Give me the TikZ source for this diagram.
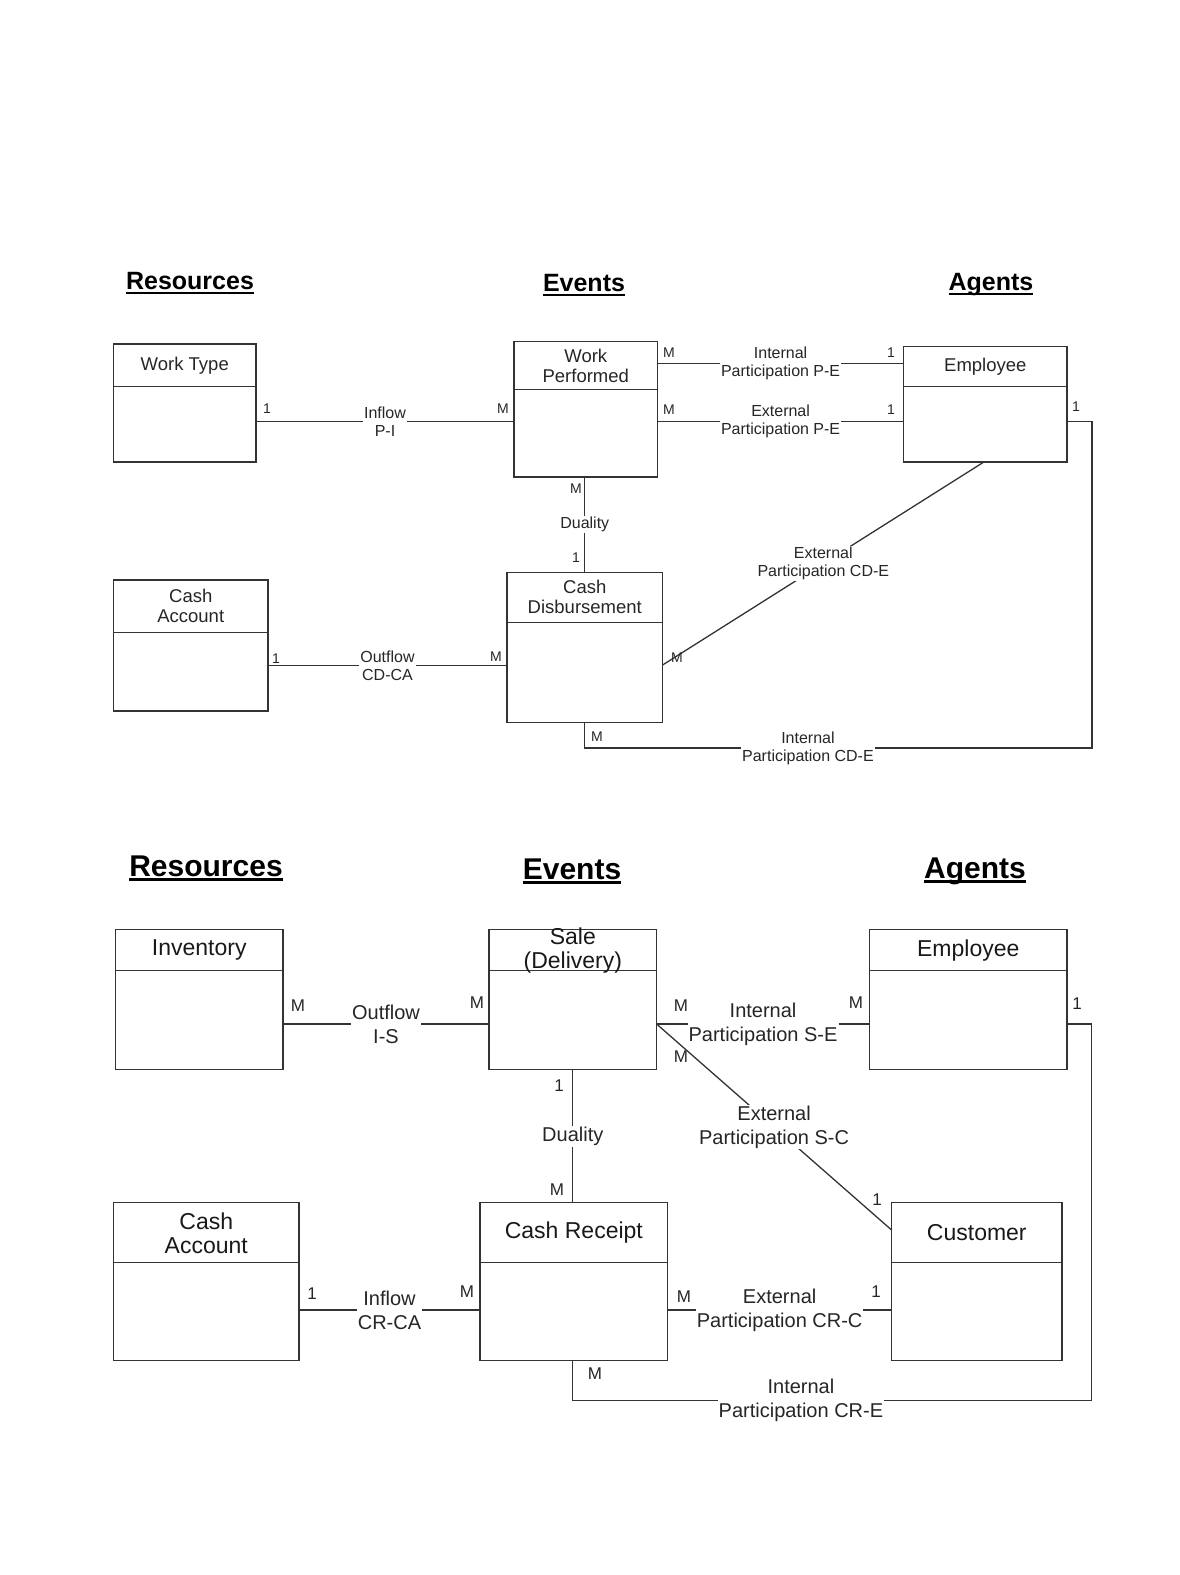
\documentclass[tikz,border=0pt]{standalone}
\usepackage{fontspec}
\setmainfont{Liberation Sans}
\newcommand\headul[1]{\setbox0=\hbox{#1}\leavevmode\rlap{\copy0}\rule[-4.5pt]{\wd0}{2.2pt}}
\newcommand\entity[8]{%
  \node[ent, minimum width=#4pt, minimum height=#5pt] (#1H) at (#2,#3) {};
  \node[ent, minimum width=#4pt, minimum height=#6pt] (#1) at (#1H.south west) {};
  \node[#7] (#1T) at (#1H.center) {#8};
}
\tikzset{
  ent/.style={draw=black!80, line width=1.3pt, inner sep=0pt, outer sep=0pt, anchor=north west},
  tname/.style={align=center, text=black!85, inner sep=0pt, font=\fontsize{18.5}{20}\selectfont},
  bname/.style={align=center, text=black!90, inner sep=0pt, font=\fontsize{23}{24}\selectfont},
  conn/.style={draw=black!80, line width=1.3pt},
  tlbl/.style={fill=white, inner sep=1pt, align=center, text=black!85, font=\fontsize{16}{18}\selectfont},
  blbl/.style={fill=white, inner sep=1pt, align=center, text=black!85, font=\fontsize{20}{24}\selectfont},
  tcard/.style={inner sep=0pt, text=black!85, font=\fontsize{14}{14}\selectfont},
  bcard/.style={inner sep=0pt, text=black!85, font=\fontsize{17}{17}\selectfont},
  thead/.style={inner sep=0pt, text=black, font=\fontsize{25}{28}\bfseries\selectfont},
  bhead/.style={inner sep=0pt, text=black, font=\fontsize{30}{32}\bfseries\selectfont},
}
\begin{document}
\begin{tikzpicture}[x=1pt,y=-1pt]
\useasboundingbox (0,0) rectangle (1180,1575);
% ---------------- top diagram ----------------
\node[thead] (h1) at (190,283) {\headul{Resources}};
\node[thead] (h2) at (584,285) {\headul{Events}};
\node[thead] (h3) at (991,285) {\headul{Agents}};

\entity{wt}{113.5}{344}{142.5}{42.5}{75.5}{tname}{Work Type}
\entity{wp}{514}{341.4}{143.6}{48}{87.5}{tname}{Work\\Performed}
\entity{emp}{903.6}{346.4}{163.4}{40}{75.5}{tname}{Employee}
\entity{ca}{113.5}{580}{154.5}{52.5}{78.5}{tname}{Cash\\Account}
\entity{cd}{507}{572.3}{155.6}{50}{100.5}{tname}{Cash\\Disbursement}

\draw[conn] (wt.east |- 0,421.7) -- node[tlbl] (l1) {Inflow\\P-I} (wp.west |- 0,421.7);
\node[tcard] (c1a) at (267,409) {1};
\node[tcard] (c1b) at (503,409) {M};

\draw[conn] (wp.east |- 0,363.5) -- node[tlbl] (l2) {Internal\\Participation P-E} (emp.west |- 0,363.5);
\node[tcard] (c2a) at (669,353) {M};
\node[tcard] (c2b) at (891,353) {1};

\draw[conn] (wp.east |- 0,421.7) -- node[tlbl] (l3) {External\\Participation P-E} (emp.west |- 0,421.7);
\node[tcard] (c3a) at (669,410) {M};
\node[tcard] (c3b) at (891,410) {1};

\draw[conn] (wp.south -| cdH.north) -- node[tlbl] (l4) {Duality} (cdH.north);
\node[tcard] (c4a) at (576,489) {M};
\node[tcard] (c4b) at (576,558) {1};

\draw[conn] (ca.east |- 0,665.6) -- node[tlbl] (l5) {Outflow\\CD-CA} (cd.west |- 0,665.6);
\node[tcard] (c5a) at (276,659) {1};
\node[tcard] (c5b) at (496,657) {M};

\draw[conn] (emp.south -| 984,0) -- node[tlbl] (l6) {External\\Participation CD-E} (cd.east |- 0,665);
\node[tcard] (c6a) at (677,658) {M};

\coordinate (r1) at (1092,421.7);
\draw[conn] (emp.east |- r1) -- (r1) |- node[tlbl, pos=0.78] (l7) {Internal\\Participation CD-E} (cd.south |- 0,748) -- (cd.south);
\node[tcard] (c7a) at (1076,407) {1};
\node[tcard] (c7b) at (597,737) {M};

% ---------------- bottom diagram ----------------
\node[bhead] (g1) at (206,868) {\headul{Resources}};
\node[bhead] (g2) at (572,871) {\headul{Events}};
\node[bhead] (g3) at (975,871) {\headul{Agents}};

\entity{inv}{115.5}{929.7}{167.5}{41}{99}{bname}{Inventory}
\entity{sale}{489}{929.7}{167.6}{41}{99}{bname}{Sale\\(Delivery)}
\entity{empb}{869.5}{929.7}{197.5}{41}{99}{bname}{Employee}
\entity{cab}{113.5}{1202.8}{185.5}{60}{97.6}{bname}{Cash\\Account}
\entity{cr}{480}{1202.8}{187.7}{60}{97.6}{bname}{Cash Receipt}
\entity{cust}{891.6}{1202.8}{170.4}{60}{97.6}{bname}{Customer}

\draw[conn] (inv.east |- 0,1024) -- node[blbl] (m1) {Outflow\\I-S} (sale.west |- 0,1024);
\node[bcard] (d1a) at (298,1006) {M};
\node[bcard] (d1b) at (477,1003) {M};

\draw[conn] (sale.east |- 0,1024) -- node[blbl] (m2) {Internal\\Participation S-E} (empb.west |- 0,1024);
\node[bcard] (d2a) at (681,1006) {M};
\node[bcard] (d2b) at (856,1003) {M};

\draw[conn] (sale.east |- 0,1024) -- node[blbl] (m3) {External\\Participation S-C} (cust.west |- 0,1230);
\node[bcard] (d3a) at (681,1057) {M};
\node[bcard] (d3b) at (877,1200) {1};

\draw[conn] (sale.south) -- node[blbl] (m4) {Duality} (sale.south |- crH.north);
\node[bcard] (d4a) at (559,1086) {1};
\node[bcard] (d4b) at (557,1190) {M};

\draw[conn] (cab.east |- 0,1310) -- node[blbl] (m5) {Inflow\\CR-CA} (cr.west |- 0,1310);
\node[bcard] (d5a) at (312,1294) {1};
\node[bcard] (d5b) at (467,1292) {M};

\draw[conn] (cr.east |- 0,1310) -- node[blbl] (m6) {External\\Participation CR-C} (cust.west |- 0,1310);
\node[bcard] (d6a) at (684,1297) {M};
\node[bcard] (d6b) at (876,1292) {1};

\coordinate (r2) at (1091.3,1024);
\draw[conn] (empb.east |- r2) -- (r2) |- node[blbl, pos=0.78] (m7) {Internal\\Participation CR-E} (sale.south |- 0,1400.6) -- (sale.south |- cr.south);
\node[bcard] (d7a) at (1077,1004) {1};
\node[bcard] (d7b) at (595,1374) {M};
\end{tikzpicture}
\end{document}
